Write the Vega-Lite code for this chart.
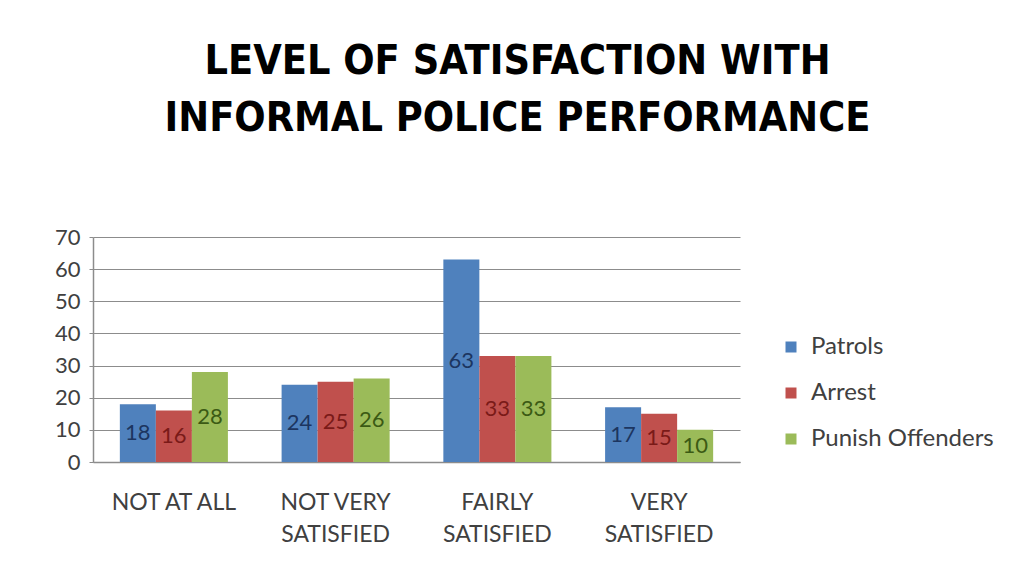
{
  "$schema": "https://vega.github.io/schema/vega-lite/v6.json",
  "width": 647,
  "height": 225,
  "autosize": {"type": "none"},
  "padding": {"left": 93, "top": 237, "right": 275, "bottom": 113},
  "background": "white",
  "title": {
    "text": ["LEVEL OF SATISFACTION WITH", "INFORMAL POLICE PERFORMANCE"],
    "anchor": "middle",
    "frame": "group",
    "dx": 101,
    "offset": 86,
    "font": "DejaVu Sans Condensed, sans-serif",
    "fontWeight": "bold",
    "fontSize": 41,
    "lineHeight": 57,
    "color": "#000000"
  },
  "data": {
    "values": [
      {"level": "NOT AT ALL", "measure": "Patrols", "value": 18},
      {"level": "NOT AT ALL", "measure": "Arrest", "value": 16},
      {"level": "NOT AT ALL", "measure": "Punish Offenders", "value": 28},
      {"level": "NOT VERY SATISFIED", "measure": "Patrols", "value": 24},
      {"level": "NOT VERY SATISFIED", "measure": "Arrest", "value": 25},
      {"level": "NOT VERY SATISFIED", "measure": "Punish Offenders", "value": 26},
      {"level": "FAIRLY SATISFIED", "measure": "Patrols", "value": 63},
      {"level": "FAIRLY SATISFIED", "measure": "Arrest", "value": 33},
      {"level": "FAIRLY SATISFIED", "measure": "Punish Offenders", "value": 33},
      {"level": "VERY SATISFIED", "measure": "Patrols", "value": 17},
      {"level": "VERY SATISFIED", "measure": "Arrest", "value": 15},
      {"level": "VERY SATISFIED", "measure": "Punish Offenders", "value": 10}
    ]
  },
  "encoding": {
    "x": {
      "field": "level",
      "type": "nominal",
      "sort": ["NOT AT ALL", "NOT VERY SATISFIED", "FAIRLY SATISFIED", "VERY SATISFIED"],
      "scale": {"paddingInner": 0.332, "paddingOuter": 0.166},
      "axis": {
        "title": null,
        "labelAngle": 0,
        "labelExpr": "indexof(datum.label, ' SATISFIED') > 0 ? [replace(datum.label, ' SATISFIED', ''), 'SATISFIED'] : datum.label",
        "labelFont": "Lato",
        "labelFontSize": 23,
        "labelColor": "#404040",
        "labelLineHeight": 32,
        "labelPadding": 29,
        "ticks": false,
        "domain": true,
        "domainColor": "#8c8c8c",
        "domainWidth": 1.5
      }
    },
    "xOffset": {
      "field": "measure",
      "type": "nominal",
      "sort": ["Patrols", "Arrest", "Punish Offenders"],
      "scale": {"paddingInner": 0, "paddingOuter": 0}
    }
  },
  "layer": [
    {
      "mark": {"type": "bar"},
      "encoding": {
        "y": {
          "field": "value",
          "type": "quantitative",
          "scale": {"domain": [0, 70], "nice": false},
          "axis": {
            "title": null,
            "values": [0, 10, 20, 30, 40, 50, 60, 70],
            "grid": true,
            "gridColor": "#8c8c8c",
            "gridWidth": 1.2,
            "domain": true,
            "domainColor": "#8c8c8c",
            "domainWidth": 1.5,
            "ticks": true,
            "tickSize": 4,
            "tickColor": "#8c8c8c",
            "labelFont": "Lato",
            "labelFontSize": 22,
            "labelColor": "#404040",
            "labelPadding": 9
          }
        },
        "color": {
          "field": "measure",
          "type": "nominal",
          "sort": ["Patrols", "Arrest", "Punish Offenders"],
          "scale": {"range": ["#4f81bd", "#c0504d", "#9bbb59"]},
          "legend": {
            "title": null,
            "orient": "none",
            "legendX": 686,
            "legendY": 98,
            "symbolType": "square",
            "symbolSize": 121,
            "symbolStrokeWidth": 0,
            "labelFont": "Lato",
            "labelFontSize": 24,
            "labelColor": "#404040",
            "labelOffset": 8,
            "labelLimit": 300,
            "rowPadding": 22
          }
        }
      }
    },
    {
      "mark": {"type": "text", "font": "Lato", "fontSize": 22, "align": "center", "baseline": "middle"},
      "encoding": {
        "y": {
          "field": "value",
          "type": "quantitative",
          "scale": {"domain": [0, 140], "nice": false, "zero": true},
          "axis": null
        },
        "text": {"field": "value", "type": "quantitative"},
        "color": {
          "field": "measure",
          "type": "nominal",
          "sort": ["Patrols", "Arrest", "Punish Offenders"],
          "scale": {"range": ["#1c3560", "#7a1a18", "#3b5a14"]},
          "legend": null
        }
      }
    }
  ],
  "resolve": {"scale": {"y": "independent", "color": "independent"}},
  "config": {
    "view": {"stroke": null}
  }
}
